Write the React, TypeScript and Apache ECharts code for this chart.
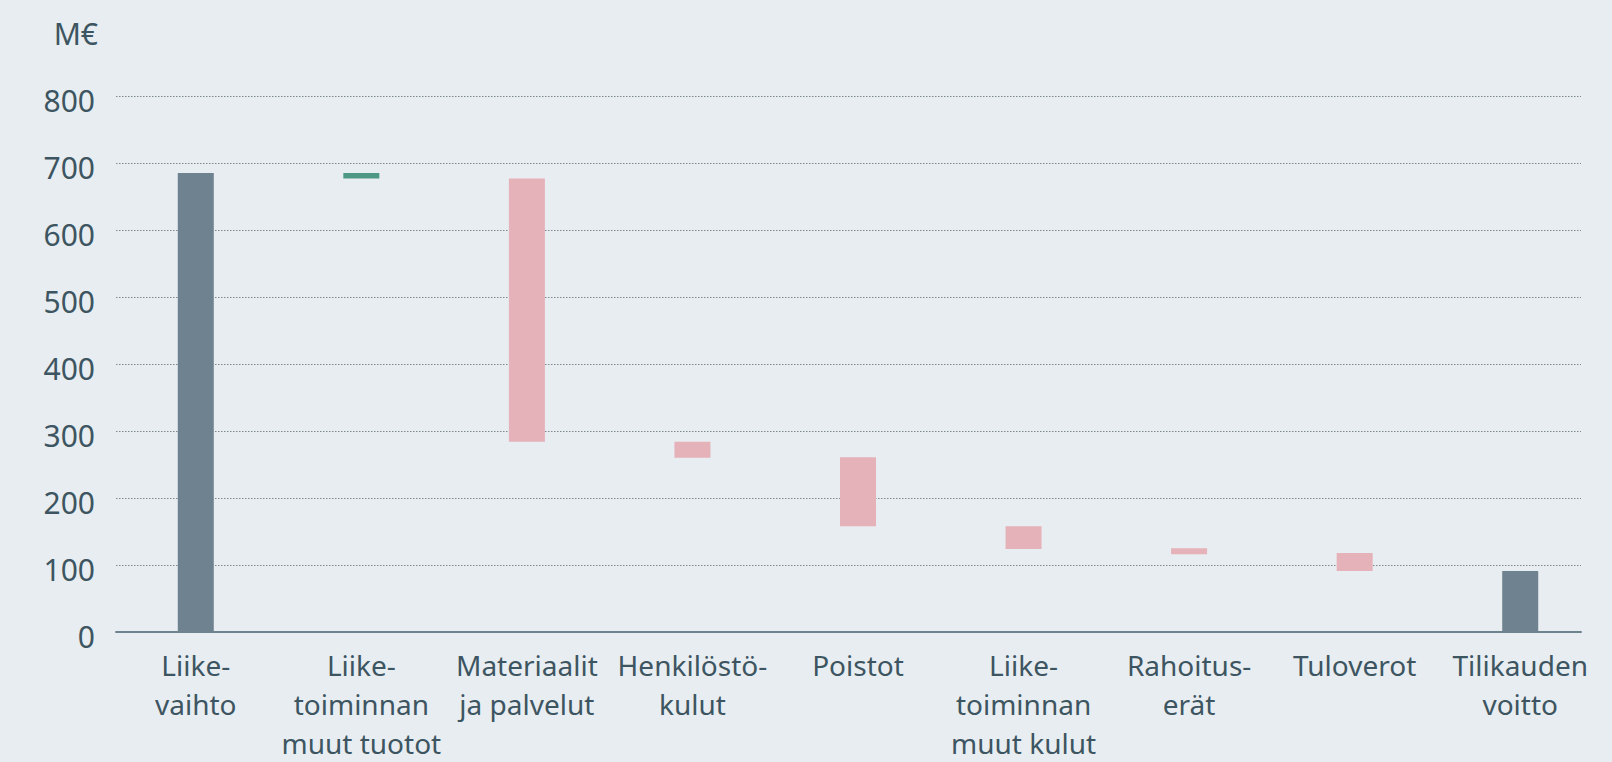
import React, { useEffect, useRef } from "react";
import * as echarts from "echarts";

const categories = [
  "Liike-\nvaihto",
  "Liike-\ntoiminnan\nmuut tuotot",
  "Materiaalit\nja palvelut",
  "Henkilöstö-\nkulut",
  "Poistot",
  "Liike-\ntoiminnan\nmuut kulut",
  "Rahoitus-\nerät",
  "Tuloverot",
  "Tilikauden\nvoitto",
];
// bottom and top of each waterfall bar (M€)
const barLow = [0, 677, 284, 260, 158, 124, 116, 91, 0];
const barHigh = [685, 685, 677, 284, 261, 158, 125, 118, 91];
const barKind = ["total", "increase", "decrease", "decrease", "decrease", "decrease", "decrease", "decrease", "total"];
const yTicks = [0, 100, 200, 300, 400, 500, 600, 700, 800];
const unitLabel = "M€";

const kindColor: Record<string, string> = {
  total: "#6e828f",
  increase: "#4e9886",
  decrease: "#e5b2b9",
};

const textColor = "#3d5561";
const font = "'Noto Sans', sans-serif";

export default function App() {
  const ref = useRef<HTMLDivElement>(null);
  useEffect(() => {
    if (!ref.current) return;
    const chart = echarts.init(ref.current, undefined, { renderer: "svg" });
    const yMin = yTicks[0];
    const yMax = yTicks[yTicks.length - 1];
    const step = yTicks[1] - yTicks[0];
    chart.setOption({
      animation: false,
      backgroundColor: "#e8edf1",
      textStyle: { fontFamily: font },
      graphic: [
        {
          type: "text",
          x: 98,
          y: 33,
          style: {
            text: unitLabel,
            fill: textColor,
            font: `30px ${font}`,
            textAlign: "right",
            textVerticalAlign: "middle",
          },
        },
      ],
      grid: [
        { left: 116, right: 31, top: 96, bottom: 130, outerBoundsMode: "none", containLabel: false },
        { left: 113, right: 9, top: 96, bottom: 130, outerBoundsMode: "none", containLabel: false },
      ],
      xAxis: [
        {
          type: "value",
          gridIndex: 0,
          min: 0,
          max: 1,
          axisLine: { show: true, lineStyle: { color: "#6f838f", width: 2 } },
          axisTick: { show: false },
          axisLabel: { show: false },
          splitLine: { show: false },
        },
        {
          type: "category",
          gridIndex: 1,
          data: categories,
          axisLine: { show: false },
          axisTick: { show: false },
          axisLabel: {
            interval: 0,
            color: textColor,
            fontSize: 28,
            lineHeight: 39,
            margin: 13,
            fontFamily: font,
            align: "center",
          },
        },
      ],
      yAxis: [
        {
          type: "value",
          gridIndex: 0,
          min: yMin,
          max: yMax,
          interval: step,
          axisLine: { show: false },
          axisTick: { show: false },
          axisLabel: {
            color: textColor,
            fontSize: 30,
            margin: 21,
            fontFamily: font,
            verticalAlign: "top",
            lineHeight: 9,
          },
          splitLine: { show: true, lineStyle: { color: "#7d898f", width: 1, type: [1.5, 1.5] } },
        },
        {
          type: "value",
          gridIndex: 1,
          min: yMin,
          max: yMax,
          show: false,
          splitLine: { show: false },
        },
      ],
      series: [
        {
          type: "bar",
          xAxisIndex: 1,
          yAxisIndex: 1,
          stack: "w",
          barWidth: 36,
          silent: true,
          itemStyle: { color: "rgba(0,0,0,0)" },
          data: barLow,
        },
        {
          type: "bar",
          xAxisIndex: 1,
          yAxisIndex: 1,
          stack: "w",
          barWidth: 36,
          data: barHigh.map((h, i) => ({
            value: h - barLow[i],
            itemStyle: { color: kindColor[barKind[i]] },
          })),
        },
      ],
    });
    return () => chart.dispose();
  }, []);
  return (
    <div
      ref={ref}
      style={{ position: "fixed", left: 0, top: 0, width: 1612, height: 762 }}
    />
  );
}
